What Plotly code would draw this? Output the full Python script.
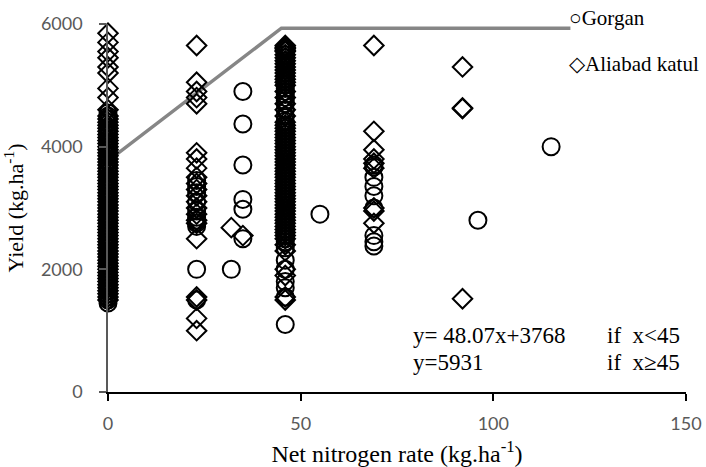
import plotly.graph_objects as go

# ---- data ----
g0 = [4550, 4500, 4450, 4400, 4320, 4250, 4200, 4120, 4050, 4000, 3950, 3880, 3850, 3780, 3750, 3680,
      3650, 3580, 3500, 3450, 3400, 3350, 3300, 3250, 3200, 3150, 3100, 3050, 3000, 2950, 2900, 2850,
      2800, 2750, 2700, 2650, 2600, 2550, 2500, 2450, 2400, 2350, 2300, 2250, 2200, 2150, 2100, 2050,
      2000, 1950, 1900, 1850, 1800, 1750, 1700, 1650, 1600, 1550, 1500, 1450]
g23 = [3450, 3350, 3250, 3100, 2950, 2850, 2800, 2750, 2700, 2000, 1500]
g32 = [2000]
g35 = [4900, 4370, 3700, 3140, 2980, 2500]
g46 = [5500, 5450, 5400, 5350, 5300, 5250, 5200, 5150, 5100, 5050, 5000, 4950, 4900, 4850, 4800, 4750,
       4700, 4600, 4500, 4420, 4350, 4300, 4250, 4200, 4150, 4100, 4050, 4000, 3950, 3900, 3850, 3800,
       3750, 3700, 3650, 3600, 3550, 3500, 3450, 3400, 3350, 3300, 3250, 3200, 3150, 3100, 3050, 3000,
       2950, 2900, 2850, 2800, 2750, 2700, 2650, 2600, 2550, 2500, 2450, 2350, 2150, 2000, 1800, 1700,
       1550, 1100]
g55 = [2900]
g69 = [3700, 3670, 3500, 3350, 3200, 3000, 2550, 2450, 2380]
g96 = [2800]
g115 = [4000]

a0 = [5850, 5700, 5550, 5450, 5300, 5200, 4950, 4800, 4600, 4500, 4450, 4400, 4350, 4300, 4250, 4200,
      4150, 4100, 4050, 4000, 3950, 3900, 3850, 3800, 3750, 3700, 3650, 3600, 3550, 3500, 3450, 3400,
      3350, 3300, 3250, 3200, 3150, 3100, 3050, 3000, 2950, 2900, 2850, 2800, 2750, 2700, 2650, 2600,
      2550, 2500, 2450, 2400, 2350, 2300, 2250, 2200, 2150, 2100, 2050, 2000, 1950, 1900, 1850, 1800,
      1750, 1700, 1650, 1600, 1550, 1500]
a23 = [5650, 5050, 4900, 4800, 4700, 3900, 3800, 3650, 3500, 3400, 3300, 3200, 3100, 3000, 2900,
       2800, 2750, 2500, 1550, 1500, 1200, 1000]
a32 = [2680]
a35 = [2550]
a46 = [5650, 5620, 5600, 5570, 5550, 5500, 5450, 5400, 5350, 5300, 5250, 5200, 5150, 5100, 5050, 5000,
       4900, 4800, 4700, 4600, 4500, 4400, 4350, 4300, 4250, 4200, 4150, 4100, 4050, 4000, 3950, 3900,
       3850, 3800, 3750, 3700, 3650, 3600, 3550, 3500, 3450, 3400, 3350, 3300, 3250, 3200, 3150, 3100,
       3050, 3000, 2950, 2900, 2850, 2800, 2750, 2700, 2650, 2600, 2550, 2500, 2400, 2300, 2000, 1900,
       1550, 1500]
a69 = [5650, 4250, 3950, 3800, 3730, 3650, 3000, 2950, 2750]
a92 = [5300, 4630, 4620, 1520]

gorgan = {0: g0, 23: g23, 32: g32, 35: g35, 46: g46, 55: g55, 69: g69, 96: g96, 115: g115}
aliabad = {0: a0, 23: a23, 32: a32, 35: a35, 46: a46, 69: a69, 92: a92}

gorgan_x = [k for k, v in gorgan.items() for _ in v]
gorgan_y = [y for v in gorgan.values() for y in v]
aliabad_x = [k for k, v in aliabad.items() for _ in v]
aliabad_y = [y for v in aliabad.values() for y in v]

fit_x = [0, 45, 120]
fit_y = [3768, 5931, 5931]

x_ticks = [0, 50, 100, 150]
y_ticks = [0, 2000, 4000, 6000]

fig = go.Figure()
fig.add_trace(go.Scatter(x=fit_x, y=fit_y, mode="lines", name="fit",
                         line=dict(color="#868686", width=3.5), showlegend=False))
fig.add_trace(go.Scatter(x=gorgan_x, y=gorgan_y, mode="markers", name="Gorgan",
                         marker=dict(symbol="circle-open", size=17, color="black",
                                     line=dict(color="black", width=2)),
                         showlegend=False, cliponaxis=False))
fig.add_trace(go.Scatter(x=aliabad_x, y=aliabad_y, mode="markers", name="Aliabad katul",
                         marker=dict(symbol="diamond-open", size=15, color="black",
                                     line=dict(color="black", width=2)),
                         showlegend=False, cliponaxis=False))

serif = "Liberation Serif"
tickfont = dict(family="Lato", size=18, color="#595959")

fig.update_layout(
    width=706, height=467,
    margin=dict(l=108, r=20, t=24, b=75, autoexpand=False),
    plot_bgcolor="white", paper_bgcolor="white",
    showlegend=False,
    xaxis=dict(range=[0, 150], tickvals=x_ticks, showgrid=False, zeroline=False,
               showline=True, linecolor="black", linewidth=1.5, automargin=False,
               ticks="outside", ticklen=7, tickcolor="black", tickwidth=1.5,
               tickfont=tickfont, ticklabelstandoff=8,
               title=dict(text="Net nitrogen rate (kg.ha<sup>-1</sup>)",
                          font=dict(family=serif, size=24, color="black"), standoff=16)),
    yaxis=dict(range=[0, 6000], tickvals=y_ticks, showgrid=False, zeroline=False,
               showline=True, linecolor="#595959", linewidth=1.5, automargin=False,
               ticks="outside", ticklen=7, tickcolor="#595959", tickwidth=1.5,
               tickfont=tickfont, ticklabelstandoff=13,
               title=dict(text="Yield (kg.ha<sup>-1</sup>)",
                          font=dict(family=serif, size=22, color="black"), standoff=12)),
)

ann_font = dict(family=serif, size=23, color="black")
leg_font = dict(family=serif, size=21, color="black")
fig.add_annotation(xref="paper", yref="paper", x=(567-108)/578, y=(392-18)/368, xanchor="left", yanchor="middle",
                   text="○Gorgan", showarrow=False, font=leg_font)
fig.add_annotation(xref="paper", yref="paper", x=(567-108)/578, y=(392-64)/368, xanchor="left", yanchor="middle",
                   text="◇Aliabad katul", showarrow=False, font=leg_font)
fig.add_annotation(xref="paper", yref="paper", x=(411-108)/578, y=(392-335)/368, xanchor="left", yanchor="middle",
                   text="y= 48.07x+3768", showarrow=False, font=ann_font)
fig.add_annotation(xref="paper", yref="paper", x=(682-108)/578, y=(392-335)/368, xanchor="right", yanchor="middle",
                   text="if  x<45", showarrow=False, font=ann_font)
fig.add_annotation(xref="paper", yref="paper", x=(411-108)/578, y=(392-362)/368, xanchor="left", yanchor="middle",
                   text="y=5931", showarrow=False, font=ann_font)
fig.add_annotation(xref="paper", yref="paper", x=(682-108)/578, y=(392-362)/368, xanchor="right", yanchor="middle",
                   text="if  x≥45", showarrow=False, font=ann_font)

fig.write_html("out.html")
